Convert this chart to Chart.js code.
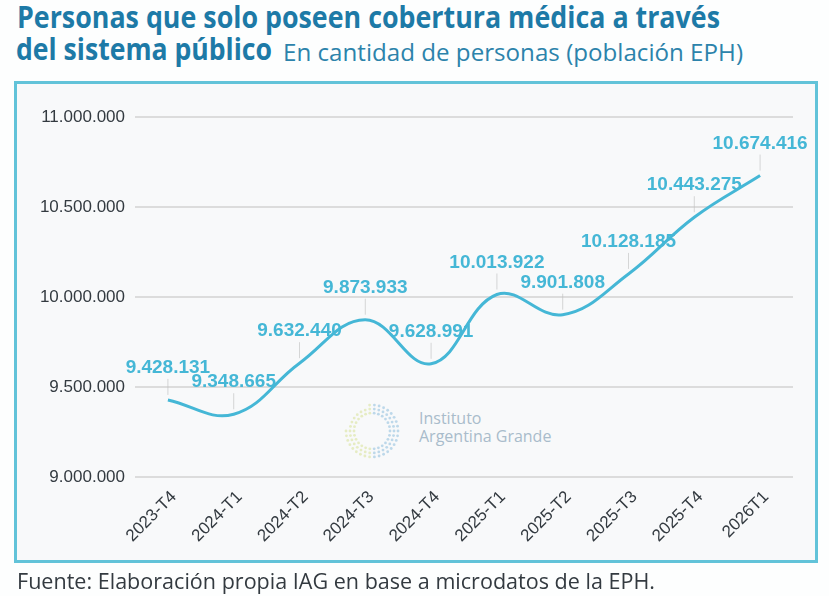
<!DOCTYPE html>
<html lang="es">
<head>
<meta charset="utf-8">
<script src="https://cdn.jsdelivr.net/npm/chart.js@4.4.1/dist/chart.umd.min.js"></script>
<style>
    html, body { margin: 0; padding: 0; background: #fdfefe; }
    body { width: 829px; height: 596px; position: relative; overflow: hidden; font-family: "Open Sans", sans-serif; }
    .line { position: absolute; white-space: nowrap; line-height: 1; transform-origin: 0 0; }
    .title { font-weight: 700; font-size: 30px; color: #1d7aa7; }
    .sub { font-weight: 400; font-size: 24px; color: #2c83ab; }
    #box { position: absolute; left: 14px; top: 81px; width: 798px; height: 476px; border: 3px solid #62c3d9; background: #f8f9fa; }
    #logo-text { position: absolute; left: 419px; top: 409px; color: #a9bccb; font-size: 16px; line-height: 18px; }
    #chart { position: absolute; left: 0; top: 0; }
    .foot { font-size: 21px; color: #333a40; }
</style>
</head>
<body>
<div class="line title" id="t1" data-w="703" style="left:17px; top:2px;">Personas que solo poseen cobertura médica a través</div>
<div class="line title" id="t2" data-w="256" style="left:16px; top:34px;">del sistema público</div>
<div class="line sub" id="t3" data-w="460" style="left:283px; top:40px;">En cantidad de personas (población EPH)</div>
<div id="box"></div>
<div id="logo-text">Instituto<br>Argentina Grande</div>
<canvas id="chart" width="829" height="596"></canvas>
<div class="line foot" id="t4" data-w="638" style="left:17px; top:571px;">Fuente: Elaboración propia IAG en base a microdatos de la EPH.</div>

<script>
// quarters and persons covered only by the public system
const quarters = ['2023-T4', '2024-T1', '2024-T2', '2024-T3', '2024-T4', '2025-T1', '2025-T2', '2025-T3', '2025-T4', '2026T1'];
const persons = [9428131, 9348665, 9632440, 9873933, 9628991, 10013922, 9901808, 10128185, 10443275, 10674416];
const yTicks = [9000000, 9500000, 10000000, 10500000, 11000000];

const lineColor = '#45b7d6';
const fmt = n => n.toLocaleString('de-DE');

// squeeze the title lines to the width they take in the original
document.querySelectorAll('.line[data-w]').forEach(el => {
    const w = el.getBoundingClientRect().width;
    el.style.transform = `scaleX(${el.dataset.w / w})`;
});

// value labels with a thin leader line down to the point
const pointLabels = {
    id: 'pointLabels',
    afterDatasetsDraw(chart) {
        const ctx = chart.ctx;
        const meta = chart.getDatasetMeta(0);
        ctx.save();
        meta.data.forEach((pt, i) => {
            ctx.strokeStyle = 'rgba(190,190,190,0.6)';
            ctx.lineWidth = 1;
            ctx.beginPath();
            ctx.moveTo(pt.x, pt.y - 21);
            ctx.lineTo(pt.x, pt.y - 5);
            ctx.stroke();
            ctx.fillStyle = lineColor;
            ctx.font = 'bold 19px "Liberation Sans", Arial, sans-serif';
            ctx.textAlign = 'center';
            ctx.textBaseline = 'middle';
            ctx.fillText(fmt(persons[i]), pt.x, pt.y - 32);
        });
        ctx.restore();
    }
};

// dotted ring of the watermark logo
const logoRing = {
    id: 'logoRing',
    beforeDatasetsDraw(chart) {
        const ctx = chart.ctx;
        const cx = 372, cy = 431;
        ctx.save();
        [18, 22, 26].forEach((r, k) => {
            const n = 26 + k * 4;
            for (let j = 0; j < n; j++) {
                const a = j / n * Math.PI * 2;
                if (Math.cos(a) < -0.2 && Math.sin(a) < 0 && k === 2) continue;
                const blue = (Math.cos(a) + 1) / 2;
                ctx.fillStyle = blue > 0.5 ? 'rgba(140,190,220,0.55)' : 'rgba(215,225,150,0.55)';
                ctx.beginPath();
                ctx.arc(cx + r * Math.cos(a), cy + r * Math.sin(a), 1.4, 0, Math.PI * 2);
                ctx.fill();
            }
        });
        ctx.restore();
    }
};

new Chart(document.getElementById('chart'), {
    type: 'line',
    data: {
        labels: quarters,
        datasets: [{
            data: persons,
            borderColor: lineColor,
            borderWidth: 3,
            tension: 0.4,
            pointRadius: 0,
            fill: false
        }]
    },
    options: {
        responsive: false,
        animation: false,
        devicePixelRatio: 1,
        layout: { padding: { top: 117, right: 36, bottom: 29, left: 0 } },
        plugins: { legend: { display: false }, tooltip: { enabled: false } },
        scales: {
            x: {
                offset: true,
                grid: { display: false },
                border: { display: false },
                ticks: {
                    color: '#333a40',
                    font: { family: '"Liberation Sans", Arial, sans-serif', size: 17 },
                    minRotation: 45,
                    maxRotation: 45,
                    padding: 2,
                    labelOffset: 6
                },
                afterFit(scale) { scale.height = 90; }
            },
            y: {
                min: 9000000,
                max: 11000000,
                afterBuildTicks(scale) { scale.ticks = yTicks.map(v => ({ value: v })); },
                grid: { color: '#dcdcdc', lineWidth: 2, drawTicks: false },
                border: { display: false },
                ticks: {
                    color: '#333a40',
                    font: { family: '"Liberation Sans", Arial, sans-serif', size: 17 },
                    padding: 10,
                    callback: v => fmt(v)
                },
                afterFit(scale) { scale.width = 135; }
            }
        }
    },
    plugins: [logoRing, pointLabels]
});
</script>
</body>
</html>
